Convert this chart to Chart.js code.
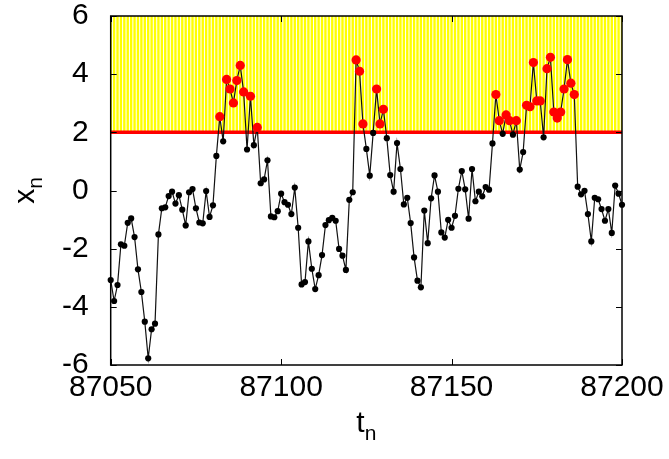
<!DOCTYPE html>
<html>
<head>
<meta charset="utf-8">
<script src="https://cdn.jsdelivr.net/npm/chart.js@4.4.1/dist/chart.umd.min.js"></script>
<style>
  html, body { margin: 0; padding: 0; background: #fff; }
  #wrap { width: 669px; height: 459px; }
</style>
</head>
<body>
<div id="wrap"><canvas id="chart"></canvas></div>
<script>
// series x_n for steps 87050..87200
const tStart = 87050;
const xn = [
  -3.08, -3.80, -3.25, -1.85, -1.90, -1.11, -0.96, -1.60, -2.71, -3.49,
  -4.51, -5.77, -4.77, -4.58, -1.51, -0.61, -0.58, -0.19, -0.04, -0.45,
  -0.16, -0.66, -1.20, -0.06, 0.05, -0.61, -1.10, -1.13, -0.02, -0.91,
  -0.51, 1.19, 2.54, 1.69, 3.82, 3.49, 3.01, 3.78, 4.30, 3.39,
  1.41, 3.24, 1.56, 2.17, 0.25, 0.38, 1.04, -0.89, -0.92, -0.71,
  -0.11, -0.40, -0.49, -0.81, 0.10, -1.28, -3.23, -3.15, -1.75, -2.69,
  -3.39, -2.91, -2.22, -1.19, -1.02, -0.94, -1.04, -2.01, -2.24, -2.73,
  -0.32, -0.06, 4.49, 4.10, 2.29, 1.43, 0.51, 1.98, 3.49, 2.29,
  2.79, 1.80, 0.53, -0.04, 1.63, 0.74, -0.48, -0.25, -1.12, -2.30,
  -3.10, -3.33, -0.69, -1.81, -0.27, 0.52, -0.04, -1.44, -1.62, -1.01,
  -1.28, -0.87, 0.06, 0.67, 0.04, -0.97, 0.74, -0.37, -0.04, -0.20,
  0.12, 0.03, 1.62, 3.30, 2.40, 1.95, 2.60, 2.40, 1.92, 2.40,
  0.72, 1.32, 2.93, 2.88, 4.40, 3.08, 3.08, 1.83, 4.19, 4.58,
  2.70, 2.49, 2.70, 3.49, 4.50, 3.69, 3.30, 0.13, -0.13, -0.01,
  -0.81, -1.75, -0.25, -0.30, -0.64, -1.04, -0.64, -1.46, 0.17, -0.11,
  -0.49
];
const tn = xn.map((v, i) => tStart + i);
const threshold = 2;
const yMin = -6, yMax = 6;
const yTicks = [-6, -4, -2, 0, 2, 4, 6];
const xTicks = [87050, 87100, 87150, 87200];

const FONT = "'Liberation Sans', Arial, sans-serif";

const series = tn.map((t, i) => ({ x: t, y: xn[i] }));
const above = series.filter(p => p.y > threshold);
const band = tn.map(t => ({ x: t, y: [threshold, yMax] }));
const thresholdLine = [{ x: tn[0], y: threshold }, { x: tn[tn.length - 1], y: threshold }];

// frame, inward ticks and axis titles with subscripts
const framePlugin = {
  id: 'frame',
  afterDatasetsDraw(chart) {
    const { ctx, chartArea: a, scales } = chart;
    const tick = 6;
    ctx.save();
    ctx.strokeStyle = '#000';
    ctx.lineWidth = 1;
    ctx.beginPath();
    yTicks.forEach(v => {
      const y = Math.round(scales.y.getPixelForValue(v)) + 0.5;
      ctx.moveTo(a.left, y); ctx.lineTo(a.left + tick, y);
      ctx.moveTo(a.right, y); ctx.lineTo(a.right - tick, y);
    });
    xTicks.forEach(v => {
      const x = Math.round(scales.x.getPixelForValue(v)) + 0.5;
      ctx.moveTo(x, a.bottom); ctx.lineTo(x, a.bottom - tick);
      ctx.moveTo(x, a.top); ctx.lineTo(x, a.top + tick);
    });
    ctx.stroke();
    ctx.lineWidth = 1.5;
    ctx.strokeRect(a.left, a.top, a.right - a.left, a.bottom - a.top);

    ctx.fillStyle = '#000';
    ctx.textBaseline = 'alphabetic';
    // x axis title: t_n
    const cx = (a.left + a.right) / 2;
    ctx.font = '30px ' + FONT;
    const tw = ctx.measureText('t').width;
    ctx.font = '21px ' + FONT;
    const nw = ctx.measureText('n').width;
    let x0 = cx - (tw + nw) / 2;
    ctx.textAlign = 'left';
    ctx.font = '30px ' + FONT;
    ctx.fillText('t', x0, 432);
    ctx.font = '21px ' + FONT;
    ctx.fillText('n', x0 + tw, 440);

    // y axis title: x_n, rotated
    const cy = (a.top + a.bottom) / 2;
    ctx.save();
    ctx.translate(34, cy);
    ctx.rotate(-Math.PI / 2);
    ctx.font = '30px ' + FONT;
    const xw = ctx.measureText('x').width;
    const s0 = -(xw + nw) / 2;
    ctx.fillText('x', s0, 0);
    ctx.font = '21px ' + FONT;
    ctx.fillText('n', s0 + xw, 8);
    ctx.restore();
    ctx.restore();
  }
};

const plain = v => String(v);

new Chart(document.getElementById('chart'), {
  data: {
    datasets: [
      {
        type: 'scatter',
        data: above,
        showLine: false,
        pointRadius: 4.6,
        pointBackgroundColor: '#ff0000',
        pointBorderWidth: 0,
        order: 0,
        clip: false
      },
      {
        type: 'line',
        data: series,
        borderColor: '#111',
        borderWidth: 1.2,
        pointRadius: 3.1,
        pointBackgroundColor: '#000',
        pointBorderWidth: 0,
        tension: 0,
        order: 1,
        clip: false
      },
      {
        type: 'line',
        data: thresholdLine,
        borderColor: '#ff0000',
        borderWidth: 3.5,
        pointRadius: 0,
        order: 2,
        clip: false
      },
      {
        type: 'bar',
        data: band,
        backgroundColor: '#ffff00',
        borderWidth: 0,
        barPercentage: 0.7,
        categoryPercentage: 1,
        order: 3,
        clip: { left: 0, right: 0, top: 0, bottom: 0 }
      }
    ]
  },
  options: {
    responsive: true,
    maintainAspectRatio: false,
    animation: false,
    events: [],
    layout: { padding: { top: 16, right: 47, left: 0, bottom: 0 } },
    plugins: { legend: { display: false }, tooltip: { enabled: false } },
    scales: {
      x: {
        type: 'linear',
        min: xTicks[0],
        max: xTicks[xTicks.length - 1],
        offset: false,
        grid: { display: false },
        border: { display: false },
        afterBuildTicks: s => { s.ticks = xTicks.map(v => ({ value: v })); },
        afterFit: s => { s.height = 94; s.paddingLeft = 0; s.paddingRight = 0; },
        ticks: {
          color: '#000',
          padding: -3,
          maxRotation: 0,
          callback: plain,
          font: { family: FONT, size: 30 }
        }
      },
      y: {
        type: 'linear',
        min: yMin,
        max: yMax,
        grid: { display: false },
        border: { display: false },
        afterBuildTicks: s => { s.ticks = yTicks.map(v => ({ value: v })); },
        afterFit: s => { s.width = 110.7; s.paddingTop = 0; s.paddingBottom = 0; },
        ticks: {
          color: '#000',
          padding: 14,
          callback: plain,
          font: { family: FONT, size: 30 }
        }
      }
    }
  },
  plugins: [framePlugin]
});
</script>
</body>
</html>
